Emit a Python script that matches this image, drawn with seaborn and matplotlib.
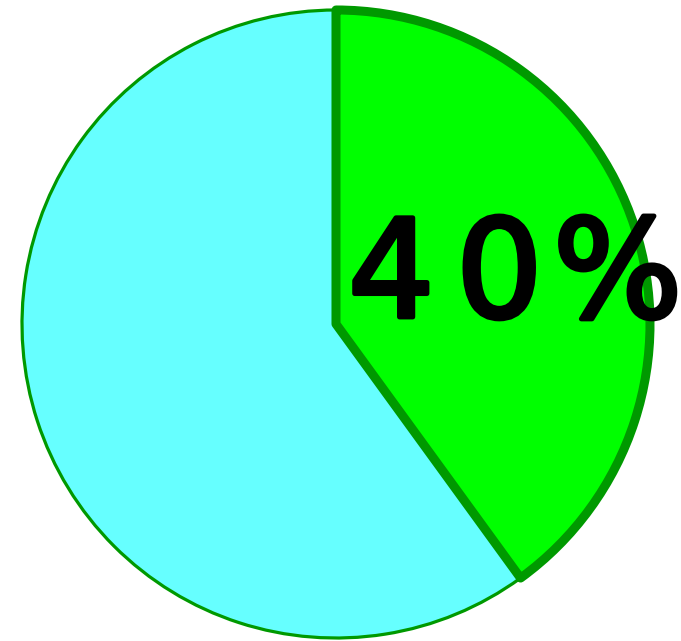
import matplotlib
matplotlib.use("Agg")
import matplotlib.pyplot as plt
import matplotlib.patheffects as pe
import seaborn as sns

sns.set_style("white")
plt.rcParams['font.family'] = ['DejaVu Sans']

labels = ["A", "B"]
values = [40, 60]
label_text = "40%"
fill_colors = ["#00FF00", "#66FFFF"]
edge_color = "#009900"

fig = plt.figure(figsize=(6.81, 6.41), dpi=100)
ax = fig.add_axes([0, 0, 1, 1])

wedges, _ = ax.pie(values, colors=fill_colors, startangle=90, counterclock=False,
                   center=(336, 641 - 324), radius=314, frame=True)
wedges[0].set_edgecolor(edge_color)
wedges[0].set_linewidth(6.5)
wedges[0].set_joinstyle('round')
wedges[0].set_zorder(3)
wedges[1].set_edgecolor(edge_color)
wedges[1].set_linewidth(2.3)
wedges[1].set_zorder(2)
ax.set_xlim(0, 681)
ax.set_ylim(0, 641)
ax.set_aspect('equal')
ax.axis('off')

# character placement (layout) to mimic the wider reference typeface
char_x = [348, 456, 553]
for ch, x in zip(label_text, char_x):
    ax.text(x, 641 - 317, ch, ha='left', va='baseline', fontsize=98,
            fontweight='normal', color='black', zorder=5,
            path_effects=[pe.withStroke(linewidth=3.5, foreground='black')])

fig.savefig("out.png", dpi=100)
